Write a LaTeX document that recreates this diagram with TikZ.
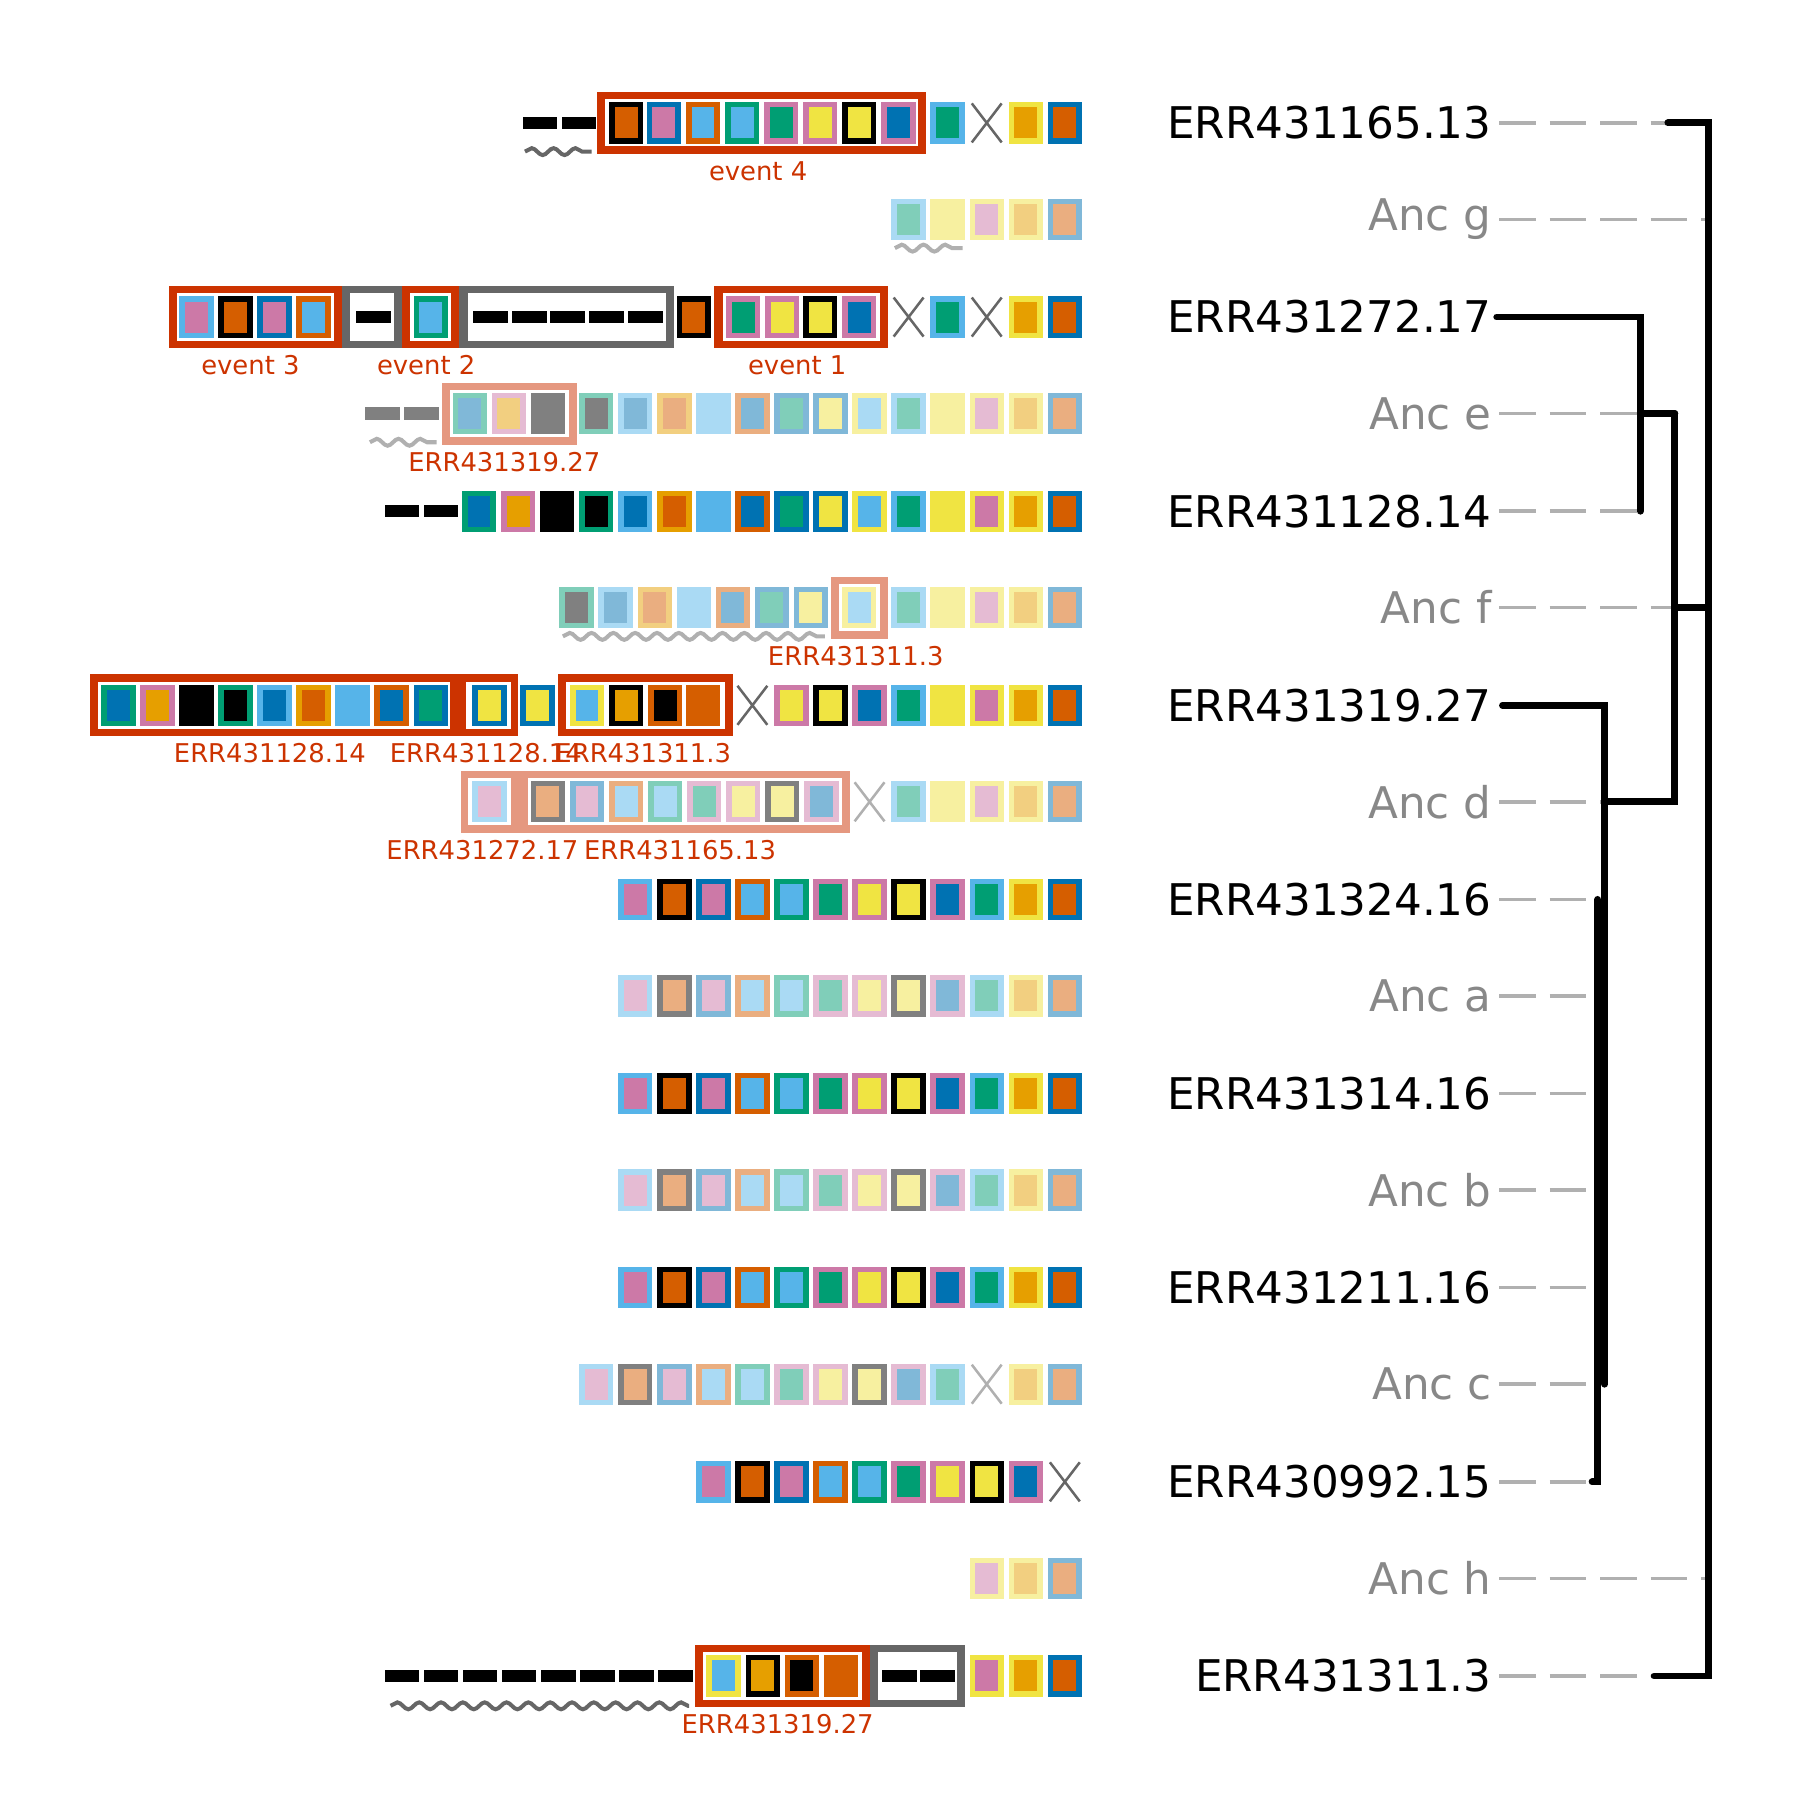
\documentclass[tikz,border=0pt]{standalone}
\usepackage{fontspec}
\setmainfont{DejaVu Sans}
\usetikzlibrary{decorations.pathmorphing}
\definecolor{cO}{HTML}{E69F00}\definecolor{cS}{HTML}{56B4E9}\definecolor{cG}{HTML}{009E73}
\definecolor{cY}{HTML}{F0E442}\definecolor{cB}{HTML}{0072B2}\definecolor{cV}{HTML}{D55E00}
\definecolor{cP}{HTML}{CC79A7}\definecolor{cK}{HTML}{000000}
\definecolor{lO}{HTML}{F2CF80}\definecolor{lS}{HTML}{AADAF4}\definecolor{lG}{HTML}{80CEB9}
\definecolor{lY}{HTML}{F7F0A0}\definecolor{lB}{HTML}{80B8D8}\definecolor{lV}{HTML}{EAAE80}
\definecolor{lP}{HTML}{E5BBD3}\definecolor{cGr}{HTML}{808080}
\definecolor{fred}{HTML}{CC3300}\definecolor{fsal}{HTML}{E59880}\definecolor{fgray}{HTML}{666666}
\definecolor{ancg}{HTML}{888888}\definecolor{dashg}{HTML}{B0B0B0}
\newcommand\gn[4]{\fill[#3] (#1-15,#2-18) rectangle (#1+15,#2+18);\fill[#4] (#1-10,#2-13.5) rectangle (#1+10,#2+13.5);}
\newcommand\generow[2]{\foreach \xx/\oo/\ii in {#2} {\gn{\xx}{#1}{\oo}{\ii}}}
\newcommand\frm[4]{\fill[#4] (#1,#3-27) rectangle (#2,#3+27);\fill[white] (#1+7,#3-20.5) rectangle (#2-7,#3+20.5);}
\newcommand\dsh[3]{\foreach \xx in {#2} {\fill[#3] (\xx-15,#1-5.5) rectangle (\xx+15,#1+5.5);}}
\newcommand\xm[3]{\draw[#3,line width=2.2] (#1-13,#2-17)--(#1+13,#2+17) (#1-13,#2+17)--(#1+13,#2-17);}
\newcommand\wav[4]{\draw[#4,line width=3.5,decorate,decoration={snake,amplitude=3,segment length=19}] (#1,#3)--(#2,#3);}
\tikzset{small/.style={text=fred,font=\fontsize{22.5}{24}\selectfont},
 leaf/.style={anchor=east,font=\fontsize{38}{41}\selectfont},
 anc/.style={leaf,text=ancg},
 tr/.style={line width=6,line cap=round},
 dl/.style={dashg,line width=3,dash pattern=on 32 off 12}}
\begin{document}
\begin{tikzpicture}[x=1pt,y=-1pt]
\useasboundingbox (0,0) rectangle (1567,1567);
% row 1
\dsh{107}{470,504}{black}\wav{457}{515}{132}{fgray}
\frm{520}{806}{107}{fred}
\generow{107}{545/cK/cV,578/cB/cP,612/cV/cS,646/cG/cS,680/cP/cG,714/cP/cY,748/cK/cY,782/cP/cB,825/cS/cG,893/cY/cO,927/cB/cV}
\xm{859}{107}{fgray}
\node[small] (e4) at (660,149) {event 4};
% row 2
\generow{191}{791/lS/lG,825/lY/lY,859/lY/lP,893/lY/lO,927/lB/lV}
\wav{779}{838}{216}{dashg}
% row 3
\frm{147}{298}{276}{fred}\frm{298}{350}{276}{fgray}\frm{350}{400}{276}{fred}\frm{400}{587}{276}{fgray}\frm{622}{773}{276}{fred}
\generow{276}{171/cS/cP,205/cK/cV,239/cB/cP,273/cV/cS,375/cG/cS,604/cK/cV,647/cP/cG,681/cP/cY,714/cK/cY,748/cP/cB,825/cS/cG,893/cY/cO,927/cB/cV}
\dsh{276}{325,427,461,494,528,562}{black}
\xm{791}{276}{fgray}\xm{859}{276}{fgray}
\node[small] (e3) at (218,318) {event 3};
\node[small] (e2) at (371,318) {event 2};
\node[small] (e1) at (694,318) {event 1};
% row 4
\dsh{360}{333,367}{cGr}\wav{322}{380}{385}{dashg}
\frm{385}{502}{360}{fsal}
\generow{360}{409/lG/lB,443/lP/lO,477/cGr/cGr,519/lG/cGr,553/lS/lB,587/lO/lV,621/lS/lS,655/lV/lB,689/lB/lG,723/lB/lY,757/lY/lS,791/lS/lG,825/lY/lY,859/lY/lP,893/lY/lO,927/lB/lV}
\node[small] (l4) at (439,402) {ERR431319.27};
% row 5
\dsh{445}{350,384}{black}
\generow{445}{417/cG/cB,451/cP/cO,485/cK/cK,519/cG/cK,553/cS/cB,587/cO/cV,621/cS/cS,655/cV/cB,689/cB/cG,723/cB/cY,757/cY/cS,791/cS/cG,825/cY/cY,859/cY/cP,893/cY/cO,927/cB/cV}
% row 6
\frm{723}{773}{529}{fsal}
\generow{529}{502/lG/cGr,536/lS/lB,570/lO/lV,604/lS/lS,638/lV/lB,672/lB/lG,706/lB/lY,748/lY/lS,791/lS/lG,825/lY/lY,859/lY/lP,893/lY/lO,927/lB/lV}
\wav{490}{718}{554}{dashg}
\node[small] (l6) at (745,571) {ERR431311.3};
% row 7
\fill[fred] (78,587) rectangle (451,641);
\fill[white] (85,593.5) rectangle (392,634.5);\fill[white] (406,593.5) rectangle (445,634.5);
\frm{486}{638}{614}{fred}
\generow{614}{103/cG/cB,137/cP/cO,171/cK/cK,205/cG/cK,239/cS/cB,273/cO/cV,307/cS/cS,341/cV/cB,375/cB/cG,426/cB/cY,468/cB/cY,511/cY/cS,545/cK/cO,579/cV/cK,612/cV/cV,689/cP/cY,723/cK/cY,757/cP/cB,791/cS/cG,825/cY/cY,859/cY/cP,893/cY/cO,927/cB/cV}
\xm{655}{614}{fgray}
\node[small] (l7a) at (235,656) {ERR431128.14};
\node[small] (l7b) at (423,656) {ERR431128.14};
\node[small] (l7c) at (560,656) {ERR431311.3};
% row 8
\fill[fsal] (401,671) rectangle (740,725);
\fill[white] (407,677.5) rectangle (445,718.5);\fill[white] (460,677.5) rectangle (733,718.5);
\generow{698}{426/lS/lP,477/cGr/lV,511/lB/lP,545/lV/lS,579/lG/lS,613/lP/lG,647/lP/lY,681/cGr/lY,715/lP/lB,791/lS/lG,825/lY/lY,859/lY/lP,893/lY/lO,927/lB/lV}
\xm{757}{698}{dashg}
\node[small] (l8a) at (420,740) {ERR431272.17};
\node[small] (l8b) at (592,740) {ERR431165.13};
% rows 9-13
\foreach \yy in {783,952,1121}{\generow{\yy}{553/cS/cP,587/cK/cV,621/cB/cP,655/cV/cS,689/cG/cS,723/cP/cG,757/cP/cY,791/cK/cY,825/cP/cB,859/cS/cG,893/cY/cO,927/cB/cV}}
\foreach \yy in {867,1036}{\generow{\yy}{553/lS/lP,587/cGr/lV,621/lB/lP,655/lV/lS,689/lG/lS,723/lP/lG,757/lP/lY,791/cGr/lY,825/lP/lB,859/lS/lG,893/lY/lO,927/lB/lV}}
% row 14
\generow{1205}{519/lS/lP,553/cGr/lV,587/lB/lP,621/lV/lS,655/lG/lS,689/lP/lG,723/lP/lY,757/cGr/lY,791/lP/lB,825/lS/lG,893/lY/lO,927/lB/lV}
\xm{859}{1205}{dashg}
% row 15
\generow{1290}{621/cS/cP,655/cK/cV,689/cB/cP,723/cV/cS,757/cG/cS,791/cP/cG,825/cP/cY,859/cK/cY,893/cP/cB}
\xm{927}{1290}{fgray}
% row 16
\generow{1374}{859/lY/lP,893/lY/lO,927/lB/lV}
% row 17
\dsh{1459}{350,384,418,452,486,520,554,588}{black}\wav{340}{600}{1485}{fgray}
\frm{605}{757}{1459}{fred}\frm{757}{840}{1459}{fgray}
\generow{1459}{630/cY/cS,664/cK/cO,698/cV/cK,732/cV/cV,859/cY/cP,893/cY/cO,927/cB/cV}
\dsh{1459}{783,816}{black}
\node[small] (l17) at (677,1501) {ERR431319.27};
% labels
\node[leaf] (t1) at (1302,107) {ERR431165.13};
\node[anc] (ag) at (1302,191) {Anc g};
\node[leaf] (t2) at (1302,276) {ERR431272.17};
\node[anc] (ae) at (1302,360) {Anc e};
\node[leaf] (t3) at (1302,445) {ERR431128.14};
\node[anc] (af) at (1302,529) {Anc f};
\node[leaf] (t4) at (1302,614) {ERR431319.27};
\node[anc] (ad) at (1302,698) {Anc d};
\node[leaf] (t5) at (1302,783) {ERR431324.16};
\node[anc] (aa) at (1302,867) {Anc a};
\node[leaf] (t6) at (1302,952) {ERR431314.16};
\node[anc] (ab) at (1302,1036) {Anc b};
\node[leaf] (t7) at (1302,1121) {ERR431211.16};
\node[anc] (ac) at (1302,1205) {Anc c};
\node[leaf] (t8) at (1302,1290) {ERR430992.15};
\node[anc] (ah) at (1302,1374) {Anc h};
\node[leaf] (t9) at (1302,1459) {ERR431311.3};
% dashed guides
\draw[dl] (1305,107)--(1452,107);
\draw[dl] (1305,191)--(1487,191);
\draw[dl] (1305,360)--(1458,360);
\draw[dl] (1305,445)--(1428,445);
\draw[dl] (1305,529)--(1458,529);
\draw[dl] (1305,698)--(1397,698);
\foreach \yy in {783,867,952,1036,1121,1205,1290}{\draw[dl] (1305,\yy)--(1388,\yy);}
\draw[dl] (1305,1374)--(1487,1374);
\draw[dl] (1305,1459)--(1440,1459);
% tree
\draw[tr] (1452,107)--(1487,107)--(1487,1459)--(1440,1459);
\draw[tr] (1458,529)--(1487,529);
\draw[tr] (1428,360)--(1458,360); \draw[tr] (1458,360)--(1458,698)--(1397,698);
\draw[tr] (1303,276)--(1428,276)--(1428,445);
\draw[tr] (1308,614)--(1397,614)--(1397,1205);
\draw[tr] (1391,783)--(1391,1290)--(1386,1290);
\end{tikzpicture}
\end{document}
